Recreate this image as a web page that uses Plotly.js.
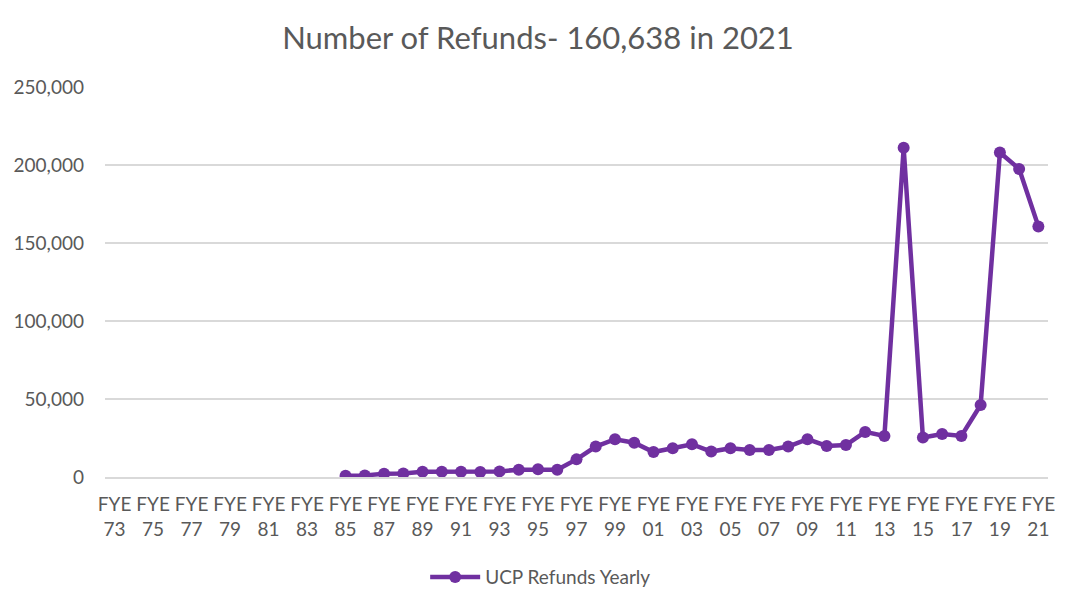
<!DOCTYPE html>
<html>
<head>
<meta charset="utf-8">
<script src="https://cdn.plot.ly/plotly-3.0.1.min.js"></script>
<style>html,body{margin:0;padding:0;background:#fff;}#chart{width:1076px;height:612px;}</style>
</head>
<body>
<div id="chart"></div>
<script>
const years = ["73","74","75","76","77","78","79","80","81","82","83","84","85","86","87","88","89","90","91","92","93","94","95","96","97","98","99","00","01","02","03","04","05","06","07","08","09","10","11","12","13","14","15","16","17","18","19","20","21"];
const categories = years.map(y => "FYE " + y);
const refunds = [null,null,null,null,null,null,null,null,null,null,null,null,
  800,1000,2100,2200,3400,3400,3300,3200,3600,4700,4900,4700,11300,19500,24200,22000,16000,18400,21000,
  16300,18400,17300,17300,19500,24200,19900,20500,28900,26300,211000,25300,27500,26300,46200,208000,197500,160638];
const tickCats = categories.filter((c, i) => i % 2 === 0);
const tickLabels = tickCats.map(c => c.replace(" ", "<br>"));
const seriesName = "UCP Refunds Yearly";
const titleText = "Number of Refunds- 160,638 in 2021";

const color = "#7030A0";
const fam = "Lato, 'Open Sans', sans-serif";
const trace = {
  x: categories, y: refunds, type: "scatter", mode: "lines+markers",
  name: seriesName, connectgaps: false,
  line: {color: color, width: 4.5},
  marker: {color: color, size: 12}
};
const layout = {
  width: 1076, height: 612,
  margin: {l: 105, r: 28, t: 87, b: 135},
  paper_bgcolor: "#fff", plot_bgcolor: "#fff",
  font: {family: fam, color: "#595959", size: 19},
  title: {text: titleText, x: 0.5, xanchor: "center", y: 0.938, yanchor: "middle",
          font: {size: 31, color: "#595959", family: fam}},
  xaxis: {type: "category", categoryorder: "array", categoryarray: categories,
          tickvals: tickCats, ticktext: tickLabels, range: [-0.5, 48.5],
          showgrid: false, showline: true, linecolor: "#d9d9d9", linewidth: 1.5,
          ticks: "", ticklabelstandoff: 10, tickfont: {size: 19, color: "#595959"}},
  yaxis: {range: [0, 250000], dtick: 50000, tickformat: ",d",
          showgrid: true, gridcolor: "#d9d9d9", gridwidth: 1.5, zeroline: false,
          ticks: "", ticklabelstandoff: 20, tickfont: {size: 19, color: "#595959"}},
  showlegend: true,
  legend: {orientation: "h", x: 0.462, xanchor: "center", yref: "container", y: 0.057, yanchor: "middle",
           font: {size: 19, color: "#595959"}, itemwidth: 50}
};
Plotly.newPlot("chart", [trace], layout, {displayModeBar: false, staticPlot: true});
</script>
</body>
</html>
